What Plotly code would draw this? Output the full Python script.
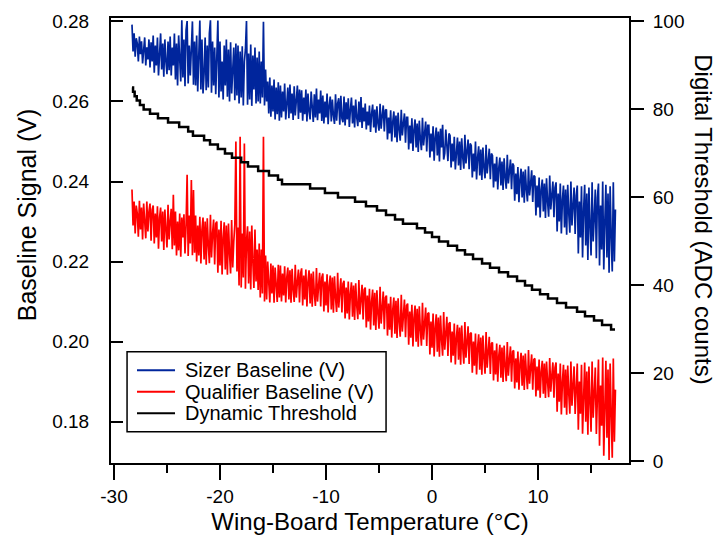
import numpy as np
import plotly.graph_objects as go

# Temperature samples (°C): start and step of the recorded sweep
temp_start = -28.3
temp_step = 0.1

sizer_v = [
    .2792, .2725, .2770, .2712, .2758, .2745, .2700, .2762, .2718, .2750, .2695, .2740, .2760, .2690, .2735, .2705, .2755, .2685, .2748, .2700,
    .2765, .2672, .2740, .2690, .2760, .2665, .2725, .2770, .2680, .2745, .2662, .2755, .2700, .2668, .2750, .2678, .2762, .2665, .2735, .2690,
    .2770, .2655, .2745, .2640, .2765, .2680, .2650, .2803, .2660, .2755, .2638, .2778, .2801, .2645, .2740, .2665, .2760, .2800, .2642, .2750,
    .2640, .2765, .2625, .2745, .2802, .2630, .2755, .2620, .2670, .2760, .2628, .2740, .2635, .2770, .2803, .2622, .2750, .2640, .2735, .2618,
    .2745, .2802, .2610, .2750, .2625, .2700, .2605, .2740, .2640, .2755, .2612, .2730, .2600, .2748, .2620, .2690, .2735, .2603, .2745, .2615,
    .2740, .2595, .2725, .2610, .2738, .2590, .2700, .2730, .2801, .2592, .2720, .2605, .2742, .2589, .2715, .2630, .2735, .2595, .2710, .2600,
    .2725, .2595, .2700, .2610, .2799, .2590, .2680, .2600, .2650, .2570, .2660, .2562, .2640, .2575, .2655, .2555, .2635, .2568, .2648, .2552,
    .2640, .2560, .2625, .2575, .2645, .2555, .2615, .2635, .2558, .2642, .2570, .2620, .2554, .2638, .2565, .2600, .2640, .2556, .2630, .2572,
    .2628, .2552, .2610, .2568, .2630, .2550, .2620, .2575, .2555, .2625, .2590, .2549, .2618, .2560, .2632, .2553, .2605, .2570, .2627, .2551,
    .2615, .2545, .2600, .2560, .2620, .2543, .2590, .2612, .2550, .2605, .2565, .2544, .2618, .2552, .2595, .2608, .2542, .2614, .2558, .2548,
    .2612, .2540, .2598, .2555, .2608, .2536, .2580, .2610, .2545, .2590, .2535, .2605, .2560, .2538, .2600, .2548, .2611, .2534, .2585, .2550,
    .2595, .2530, .2575, .2540, .2590, .2524, .2570, .2592, .2535, .2580, .2522, .2588, .2545, .2527, .2594, .2532, .2565, .2590, .2525, .2578,
    .2580, .2505, .2560, .2520, .2578, .2500, .2550, .2575, .2510, .2565, .2498, .2572, .2530, .2502, .2579, .2515, .2545, .2570, .2497, .2560,
    .2560, .2480, .2540, .2495, .2558, .2476, .2530, .2555, .2485, .2545, .2474, .2552, .2505, .2478, .2559, .2490, .2520, .2550, .2475, .2540,
    .2540, .2460, .2520, .2475, .2538, .2452, .2510, .2535, .2465, .2525, .2450, .2532, .2485, .2542, .2455, .2470, .2530, .2500, .2451, .2520,
    .2515, .2435, .2495, .2450, .2512, .2430, .2485, .2510, .2440, .2500, .2429, .2508, .2460, .2432, .2517, .2445, .2475, .2505, .2431, .2495,
    .2490, .2410, .2470, .2425, .2500, .2405, .2460, .2488, .2415, .2480, .2404, .2485, .2435, .2408, .2492, .2420, .2450, .2482, .2406, .2470,
    .2465, .2385, .2445, .2400, .2462, .2380, .2435, .2460, .2390, .2450, .2379, .2458, .2410, .2382, .2467, .2395, .2425, .2455, .2381, .2445,
    .2440, .2352, .2420, .2368, .2436, .2348, .2405, .2432, .2360, .2425, .2347, .2430, .2380, .2350, .2438, .2365, .2395, .2428, .2349, .2415,
    .2412, .2315, .2390, .2335, .2410, .2310, .2380, .2405, .2325, .2395, .2309, .2408, .2350, .2312, .2415, .2330, .2365, .2400, .2311, .2385,
    .2398, .2275, .2370, .2300, .2395, .2270, .2355, .2390, .2285, .2380, .2267, .2392, .2320, .2272, .2400, .2290, .2340, .2385, .2269, .2365,
    .2390, .2220, .2350, .2260, .2388, .2210, .2330, .2392, .2240, .2370, .2204, .2385, .2290, .2215, .2398, .2250, .2310, .2380, .2208, .2360,
    .2395, .2190, .2340, .2230, .2400, .2180, .2300, .2392, .2210, .2370, .2172, .2388, .2260, .2175, .2398, .2200, .2330,
]

qualifier_v = [
    .2380, .2290, .2350, .2270, .2340, .2320, .2262, .2352, .2280, .2335, .2255, .2345, .2300, .2258, .2350, .2275, .2325, .2345, .2252, .2330,
    .2340, .2245, .2320, .2260, .2338, .2232, .2310, .2335, .2250, .2325, .2229, .2330, .2280, .2235, .2342, .2255, .2300, .2332, .2231, .2367,
    .2240, .2325, .2215, .2300, .2228, .2320, .2212, .2310, .2260, .2318, .2220, .2290, .2417, .2214, .2315, .2245, .2404, .2216, .2379, .2222,
    .2315, .2200, .2290, .2215, .2312, .2195, .2280, .2310, .2205, .2300, .2192, .2308, .2240, .2196, .2317, .2210, .2270, .2305, .2193, .2295,
    .2300, .2172, .2280, .2190, .2302, .2168, .2260, .2298, .2180, .2290, .2167, .2295, .2220, .2170, .2304, .2185, .2250, .2292, .2500, .2175,
    .2285, .2140, .2512, .2135, .2270, .2160, .2495, .2132, .2250, .2288, .2145, .2275, .2130, .2290, .2200, .2134, .2280, .2150, .2230, .2129,
    .2245, .2110, .2230, .2120, .2512, .2100, .2215, .2105, .2200, .2150, .2098, .2195, .2120, .2190, .2097, .2185, .2140, .2099, .2192, .2110,
    .2190, .2100, .2170, .2115, .2188, .2098, .2160, .2185, .2105, .2178, .2097, .2182, .2130, .2099, .2192, .2110, .2150, .2180, .2098, .2170,
    .2183, .2090, .2165, .2105, .2180, .2088, .2150, .2178, .2095, .2170, .2087, .2175, .2120, .2089, .2184, .2100, .2140, .2172, .2088, .2160,
    .2170, .2075, .2150, .2090, .2168, .2073, .2140, .2165, .2080, .2160, .2072, .2163, .2110, .2074, .2172, .2085, .2125, .2158, .2073, .2145,
    .2152, .2058, .2135, .2070, .2150, .2055, .2120, .2148, .2062, .2140, .2054, .2146, .2090, .2056, .2154, .2068, .2105, .2142, .2055, .2130,
    .2135, .2035, .2115, .2050, .2132, .2030, .2100, .2130, .2040, .2122, .2029, .2128, .2070, .2032, .2137, .2045, .2085, .2125, .2031, .2110,
    .2115, .2015, .2095, .2030, .2112, .2010, .2080, .2110, .2020, .2102, .2009, .2108, .2050, .2012, .2117, .2025, .2065, .2105, .2011, .2090,
    .2095, .1992, .2075, .2010, .2092, .1988, .2060, .2090, .2000, .2082, .1987, .2088, .2030, .1990, .2097, .2005, .2045, .2085, .1989, .2070,
    .2072, .1968, .2050, .1985, .2070, .1963, .2035, .2068, .1975, .2060, .1962, .2065, .2005, .1965, .2074, .1980, .2020, .2062, .1964, .2045,
    .2048, .1948, .2025, .1965, .2045, .1943, .2010, .2042, .1955, .2035, .1942, .2040, .1985, .1945, .2049, .1960, .2000, .2038, .1944, .2020,
    .2022, .1922, .2000, .1940, .2020, .1918, .1985, .2018, .1930, .2010, .1917, .2015, .1960, .1920, .2024, .1935, .1975, .2012, .1919, .1995,
    .1998, .1903, .1978, .1918, .1995, .1900, .1965, .1992, .1910, .1985, .1899, .1990, .1940, .1901, .1999, .1915, .1955, .1988, .1900, .1975,
    .1978, .1883, .1958, .1898, .1975, .1880, .1945, .1972, .1890, .1965, .1879, .1970, .1920, .1881, .1979, .1895, .1935, .1968, .1880, .1955,
    .1958, .1863, .1938, .1878, .1955, .1860, .1925, .1952, .1870, .1945, .1859, .1950, .1900, .1861, .1959, .1875, .1915, .1948, .1860, .1935,
    .1948, .1825, .1920, .1850, .1945, .1818, .1900, .1942, .1835, .1930, .1817, .1940, .1870, .1820, .1950, .1840, .1890, .1938, .1819, .1915,
    .1945, .1780, .1900, .1820, .1942, .1770, .1880, .1948, .1800, .1925, .1767, .1938, .1850, .1775, .1950, .1810, .1870, .1935, .1769, .1910,
    .1955, .1740, .1890, .1790, .1960, .1715, .1850, .1952, .1760, .1930, .1704, .1945, .1820, .1710, .1958, .1750, .1880,
]

# Dynamic threshold: temperature at which each ADC step occurs, and its value
thresh_temp = [
    -28.30, -28.20, -28.05, -27.85, -27.55, -27.20, -26.60, -25.85, -24.90, -23.85,
    -23.00, -22.55, -21.50, -20.94, -20.20, -19.53, -18.87, -18.00, -17.36, -16.40,
    -15.38, -14.53, -14.15, -11.50, -10.10, -8.87, -7.26, -6.23, -5.19, -4.34,
    -3.49, -2.74, -1.42, -0.66, 0.00, 0.66, 1.51, 2.36, 3.11, 3.87,
    4.72, 5.47, 6.32, 7.17, 8.02, 8.77, 9.43, 10.19, 10.94, 11.79,
    12.64, 13.68, 14.43, 15.28, 16.04, 16.89, 17.26,
]
thresh_adc = [
    85, 84, 83, 82, 81, 80, 79, 78, 77, 76,
    75, 74, 73, 72, 71, 70, 69, 68, 67, 66,
    65, 64, 63, 62, 61, 60, 59, 58, 57, 56,
    55, 54, 53, 52, 51, 50, 49, 48, 47, 46,
    45, 44, 43, 42, 41, 40, 39, 38, 37, 36,
    35, 34, 33, 32, 31, 30, 30,
]

series_names = ["Sizer Baseline (V)", "Qualifier Baseline (V)", "Dynamic Threshold"]
series_colors = ["#00259c", "#ff0000", "#000000"]

x_tickvals = [-30, -20, -10, 0, 10]
x_ticktext = ["-30", "-20", "-10", "0", "10"]

temps = temp_start + temp_step * np.arange(len(sizer_v))

FONT = "Liberation Sans, Arial, sans-serif"

fig = go.Figure()
fig.add_trace(go.Scatter(x=temps, y=sizer_v, mode="lines", name=series_names[0],
                         line=dict(color=series_colors[0], width=1.7)))
fig.add_trace(go.Scatter(x=temps, y=qualifier_v, mode="lines", name=series_names[1],
                         line=dict(color=series_colors[1], width=1.7)))
fig.add_trace(go.Scatter(x=thresh_temp, y=thresh_adc, mode="lines", name=series_names[2],
                         line=dict(color=series_colors[2], width=2.5, shape="hv"), yaxis="y2"))

# Legend box drawn in paper coordinates (layout decoration)
leg_x0, leg_x1, leg_y0, leg_y1 = 0.031, 0.531, 0.070, 0.250
row_y = [0.2085, 0.1602, 0.1119]
shapes = [dict(type="rect", xref="paper", yref="paper", x0=leg_x0, x1=leg_x1, y0=leg_y0, y1=leg_y1,
               line=dict(color="black", width=1.5), fillcolor="white", layer="above")]
annotations = []
for name, color, ry in zip(series_names, series_colors, row_y):
    shapes.append(dict(type="line", xref="paper", yref="paper", x0=0.0502, x1=0.1236, y0=ry, y1=ry,
                       line=dict(color=color, width=2), layer="above"))
    annotations.append(dict(text=name, xref="paper", yref="paper", x=0.1395, y=ry,
                            xanchor="left", yanchor="middle", showarrow=False,
                            font=dict(size=20, family=FONT, color="black")))

# Rotated axis titles
annotations.append(dict(text="Baseline Signal (V)", xref="paper", yref="paper", x=-0.163, y=0.558,
                        xanchor="center", yanchor="middle", textangle=-90, showarrow=False,
                        font=dict(size=25, family=FONT, color="black")))
annotations.append(dict(text="Digital Threshold (ADC counts)", xref="paper", yref="paper", x=1.1445, y=0.548,
                        xanchor="center", yanchor="middle", textangle=90, showarrow=False,
                        font=dict(size=24, family=FONT, color="black")))

fig.update_layout(
    width=719, height=543,
    margin=dict(l=111, r=90, t=18, b=80, autoexpand=False),
    paper_bgcolor="white", plot_bgcolor="white",
    font=dict(family=FONT, color="black", size=19),
    showlegend=False,
    shapes=shapes, annotations=annotations,
    xaxis=dict(range=[-30.28, 18.58], tickvals=x_tickvals, ticktext=x_ticktext,
               ticks="outside", ticklen=15, tickwidth=1.5, tickcolor="black",
               showline=True, linewidth=2, linecolor="black", mirror=True,
               showgrid=False, zeroline=False, automargin=False,
               minor=dict(tickvals=[-25, -15, -5, 5, 15], ticks="outside", ticklen=8,
                          tickwidth=1.5, tickcolor="black", showgrid=False),
               title=dict(text="Wing-Board Temperature (°C)", font=dict(size=24), standoff=7),
               tickfont=dict(size=19)),
    yaxis=dict(range=[0.16967, 0.28085], tickvals=[0.18, 0.20, 0.22, 0.24, 0.26, 0.28],
               tickformat=".2f", ticks="inside", ticklen=12, tickwidth=1.5, tickcolor="black",
               showline=True, linewidth=2, linecolor="black", showgrid=False, zeroline=False,
               ticklabelstandoff=16, automargin=False,
               tickfont=dict(size=19)),
    yaxis2=dict(range=[-0.36, 100.77], tickvals=[0, 20, 40, 60, 80, 100],
                overlaying="y", side="right", anchor="x",
                ticks="outside", ticklen=13, tickwidth=1.5, tickcolor="black",
                showline=True, linewidth=2, linecolor="black", showgrid=False, zeroline=False,
                ticklabelstandoff=5, automargin=False,
                tickfont=dict(size=19)),
)

fig.write_html("out.html")
